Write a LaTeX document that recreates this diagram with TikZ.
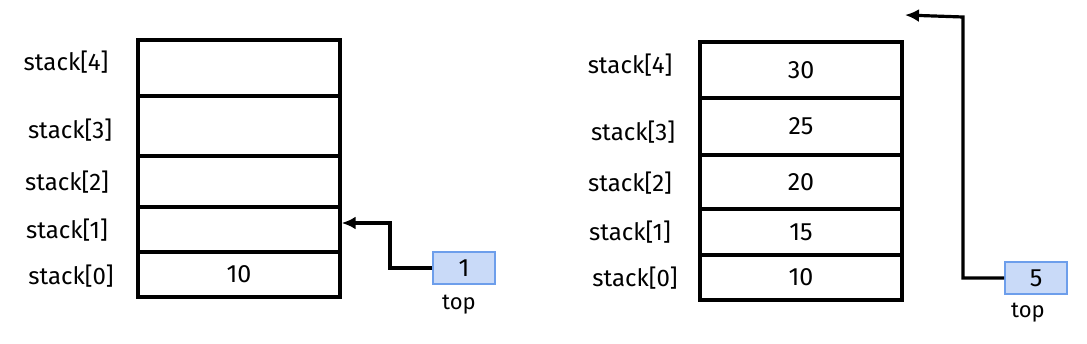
\documentclass[tikz,border=0pt]{standalone}
\usepackage{fontspec}
\setmainfont{Fira Sans}
\usetikzlibrary{arrows.meta}
\definecolor{topfill}{HTML}{C9DAF8}
\definecolor{topline}{HTML}{6D9EEB}
\begin{document}
\begin{tikzpicture}[x=1pt,y=-1pt,
  cell/.style={draw=black,line width=3.4pt,rectangle,inner sep=0pt,minimum width=202pt,font=\fontsize{25}{27}\selectfont},
  lbl/.style={inner sep=0pt,font=\fontsize{24}{26}\selectfont},
  toplbl/.style={inner sep=0pt,font=\fontsize{22}{24}\selectfont},
  topbox/.style={draw=topline,fill=topfill,line width=2pt,inner sep=0pt,minimum width=62pt,minimum height=32pt,font=\fontsize{25}{27}\selectfont},
  ptr/.style={line width=3.2pt,-{Latex[length=14pt,width=13pt]}}]
\useasboundingbox (0,0) rectangle (1087,343);
% left stack
\node[cell,minimum height=56pt] (L4) at (239,68) {};
\node[cell,minimum height=60pt] (L3) at (239,126) {};
\node[cell,minimum height=51pt] (L2) at (239,181.5) {};
\node[cell,minimum height=45pt] (L1) at (239,229.5) {};
\node[cell,minimum height=45pt] (L0) at (239,274.5) {10};
\node[lbl] (lL4) at (66,62) {stack[4]};
\node[lbl] (lL3) at (70,130) {stack[3]};
\node[lbl] (lL2) at (67,182) {stack[2]};
\node[lbl] (lL1) at (67,230) {stack[1]};
\node[lbl] (lL0) at (71,276) {stack[0]};
\node[topbox] (T1) at (464,268) {1};
\node[toplbl] (tl1) at (459,305) {top};
\coordinate (bendA) at (390,223);
\draw[ptr] (T1.west) -| (bendA) -- (bendA -| L1.east);
% right stack
\node[cell,minimum height=56pt] (R4) at (801,70) {30};
\node[cell,minimum height=57pt] (R3) at (801,126.5) {25};
\node[cell,minimum height=54pt] (R2) at (801,182) {20};
\node[cell,minimum height=46pt] (R1) at (801,232) {15};
\node[cell,minimum height=45pt] (R0) at (801,277.5) {10};
\node[lbl] (lR4) at (630,65) {stack[4]};
\node[lbl] (lR3) at (633,132) {stack[3]};
\node[lbl] (lR2) at (630,183) {stack[2]};
\node[lbl] (lR1) at (630,232) {stack[1]};
\node[lbl] (lR0) at (635,278) {stack[0]};
\node[topbox] (T2) at (1036,278) {5};
\node[toplbl] (tl2) at (1028,313) {top};
\coordinate (bendB) at (963,17);
\coordinate (endB) at (905,15);
\draw[ptr] (T2.west) -| (bendB) -- (endB);
\end{tikzpicture}
\end{document}
